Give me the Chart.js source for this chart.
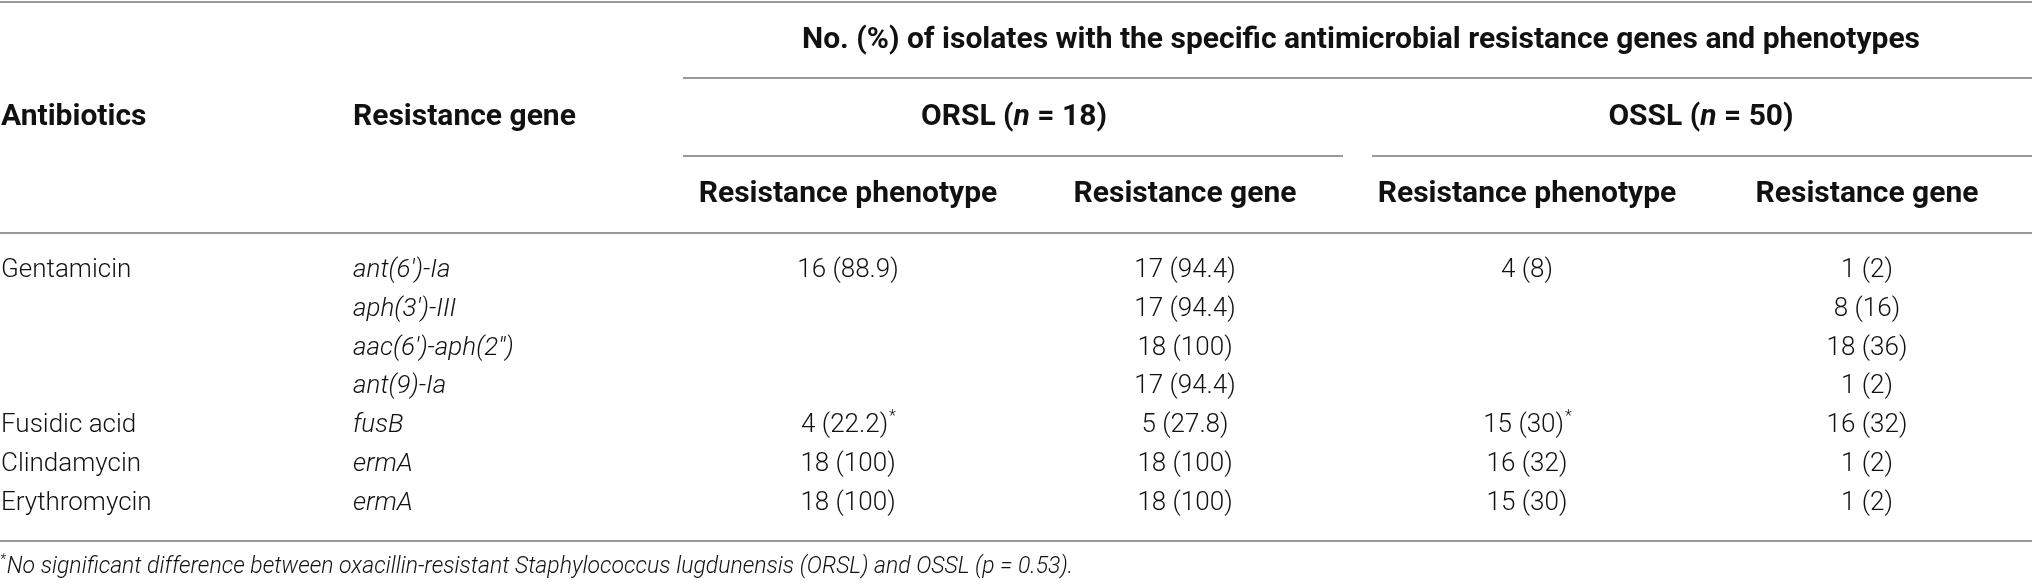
<!DOCTYPE html>
<html>
<head>
<meta charset="utf-8">
<script src="https://cdn.jsdelivr.net/npm/chart.js@4.4.1/dist/chart.umd.min.js"></script>
<style>
  html, body { margin: 0; padding: 0; background: #ffffff; }
  #wrap { width: 2032px; height: 587px; }
</style>
</head>
<body>
<div id="wrap"><canvas id="c" width="2032" height="587"></canvas></div>
<script>
// ---------------- DATA ----------------
const antibiotics = ['Gentamicin', '', '', '', 'Fusidic acid', 'Clindamycin', 'Erythromycin'];
const resistanceGenes = ["ant(6')-Ia", "aph(3')-III", "aac(6')-aph(2'')", "ant(9)-Ia", 'fusB', 'ermA', 'ermA'];
const orslPhenotypeN   = [16, null, null, null, 4, 18, 18];
const orslPhenotypePct = [88.9, null, null, null, 22.2, 100, 100];
const orslGeneN        = [17, 17, 18, 17, 5, 18, 18];
const orslGenePct      = [94.4, 94.4, 100, 94.4, 27.8, 100, 100];
const osslPhenotypeN   = [4, null, null, null, 15, 16, 15];
const osslPhenotypePct = [8, null, null, null, 30, 32, 30];
const osslGeneN        = [1, 8, 18, 1, 16, 1, 1];
const osslGenePct      = [2, 16, 36, 2, 32, 2, 2];
const phenotypeMarked  = [false, false, false, false, true, false, false];
const spannerTitle = 'No. (%) of isolates with the specific antimicrobial resistance genes and phenotypes';
const groupNames = ['ORSL', 'OSSL'];
const groupSizes = [18, 50];
const columnTitles = ['Antibiotics', 'Resistance gene'];
const subColumnTitles = ['Resistance phenotype', 'Resistance gene', 'Resistance phenotype', 'Resistance gene'];
const footnoteMark = '*';
const footnoteText = 'No significant difference between oxacillin-resistant Staphylococcus lugdunensis (ORSL) and OSSL (p = 0.53).';

// ---------------- LAYOUT / STYLE ----------------
const L = {
  leftCols: [1, 353],
  centers: [848, 1185, 1527, 1867],
  groupCenters: [1014, 1701],
  groupRules: [[683, 1343], [1372, 2032]],
  spanRule: [683, 2032],
  spanCenter: 1361,
  v: { top: -6.96, spanner: -5.95, spanRule: -4.99, group: -3.97, groupRule: -2.98, sub: -1.97, headRule: -0.98, bottom: 6.98, note: 7.66 }
};
const F = {
  bold: '700 30px Roboto',
  boldItalic: 'italic 700 30px Roboto',
  body: '300 26px Roboto',
  bodyItalic: 'italic 300 26px Roboto',
  star: '300 16px Roboto',
  note: 'italic 300 23px Roboto',
  noteStar: 'italic 300 14px Roboto'
};
const ruleColor = '#999999';
const textColor = '#111111';

function fmt(n, p) { return n == null ? '' : n + ' (' + p + ')'; }
function column(texts, xVal, align, font, marks) {
  const data = [], cellText = [], cellMark = [];
  texts.forEach((t, i) => {
    if (t) { data.push({ x: xVal, y: i }); cellText.push(t); cellMark.push(marks ? marks[i] : false); }
  });
  return { data, cellText, cellMark, cellAlign: align, cellFont: font,
           pointRadius: 0, pointHoverRadius: 0, showLine: false, clip: false };
}

const datasets = [
  column(antibiotics, L.leftCols[0], 'left', F.body),
  column(resistanceGenes, L.leftCols[1], 'left', F.bodyItalic),
  column(orslPhenotypeN.map((n, i) => fmt(n, orslPhenotypePct[i])), L.centers[0], 'center', F.body, phenotypeMarked),
  column(orslGeneN.map((n, i) => fmt(n, orslGenePct[i])), L.centers[1], 'center', F.body),
  column(osslPhenotypeN.map((n, i) => fmt(n, osslPhenotypePct[i])), L.centers[2], 'center', F.body, phenotypeMarked),
  column(osslGeneN.map((n, i) => fmt(n, osslGenePct[i])), L.centers[3], 'center', F.body)
];

function drawSegments(ctx, segs, cx, py) {
  let total = 0;
  segs.forEach(s => { ctx.font = s.font; s.w = ctx.measureText(s.text).width; total += s.w; });
  let xx = cx - total / 2;
  ctx.textAlign = 'left';
  segs.forEach(s => { ctx.font = s.font; ctx.fillText(s.text, xx, py); xx += s.w; });
}

const tablePlugin = {
  id: 'tableText',
  afterDatasetsDraw(chart) {
    const ctx = chart.ctx, xs = chart.scales.x, ys = chart.scales.y;
    const X = v => xs.getPixelForValue(v), Y = v => ys.getPixelForValue(v);
    ctx.save();
    // rules
    ctx.strokeStyle = ruleColor; ctx.lineWidth = 2;
    const rule = (x0, x1, v) => { const py = Math.round(Y(v)); ctx.beginPath(); ctx.moveTo(X(x0), py); ctx.lineTo(X(x1), py); ctx.stroke(); };
    rule(0, 2032, L.v.top);
    rule(L.spanRule[0], L.spanRule[1], L.v.spanRule);
    L.groupRules.forEach(r => rule(r[0], r[1], L.v.groupRule));
    rule(0, 2032, L.v.headRule);
    rule(0, 2032, L.v.bottom);
    // headers
    ctx.fillStyle = textColor; ctx.textBaseline = 'middle';
    ctx.font = F.bold; ctx.textAlign = 'center';
    ctx.fillText(spannerTitle, X(L.spanCenter), Y(L.v.spanner));
    ctx.textAlign = 'left';
    ctx.fillText(columnTitles[0], X(L.leftCols[0]), Y(L.v.group));
    ctx.fillText(columnTitles[1], X(L.leftCols[1]), Y(L.v.group));
    groupNames.forEach((g, i) => {
      drawSegments(ctx, [
        { text: g + ' (', font: F.bold },
        { text: 'n', font: F.boldItalic },
        { text: ' = ' + groupSizes[i] + ')', font: F.bold }
      ], X(L.groupCenters[i]), Y(L.v.group));
    });
    ctx.font = F.bold; ctx.textAlign = 'center';
    subColumnTitles.forEach((t, i) => ctx.fillText(t, X(L.centers[i]), Y(L.v.sub)));
    // cells
    chart.data.datasets.forEach((ds, di) => {
      const meta = chart.getDatasetMeta(di);
      meta.data.forEach((el, i) => {
        const t = ds.cellText[i];
        if (!t) return;
        ctx.font = ds.cellFont;
        if (ds.cellMark[i]) {
          const w = ctx.measureText(t).width;
          ctx.font = F.star;
          const ws = ctx.measureText(footnoteMark).width;
          let x0 = el.x - (w + ws) / 2;
          ctx.font = ds.cellFont; ctx.textAlign = 'left';
          ctx.fillText(t, x0, el.y);
          ctx.font = F.star;
          ctx.fillText(footnoteMark, x0 + w + 1, el.y - 9);
        } else {
          ctx.textAlign = ds.cellAlign;
          ctx.fillText(t, el.x, el.y);
        }
      });
    });
    // footnote
    ctx.textAlign = 'left';
    ctx.font = F.noteStar;
    ctx.fillText(footnoteMark, X(0), Y(L.v.note) - 7);
    const sw = ctx.measureText(footnoteMark).width;
    ctx.font = F.note;
    ctx.fillText(footnoteText, X(0) + sw + 1, Y(L.v.note));
    ctx.restore();
  }
};

new Chart(document.getElementById('c'), {
  type: 'scatter',
  data: { datasets },
  options: {
    responsive: false,
    animation: false,
    devicePixelRatio: 1,
    events: [],
    layout: { padding: 0 },
    plugins: { legend: { display: false }, tooltip: { enabled: false } },
    scales: {
      x: { type: 'linear', min: 0, max: 2032, display: false },
      y: { type: 'linear', reverse: true, min: -7, max: 8.168, display: false }
    }
  },
  plugins: [tablePlugin]
});
</script>
</body>
</html>
